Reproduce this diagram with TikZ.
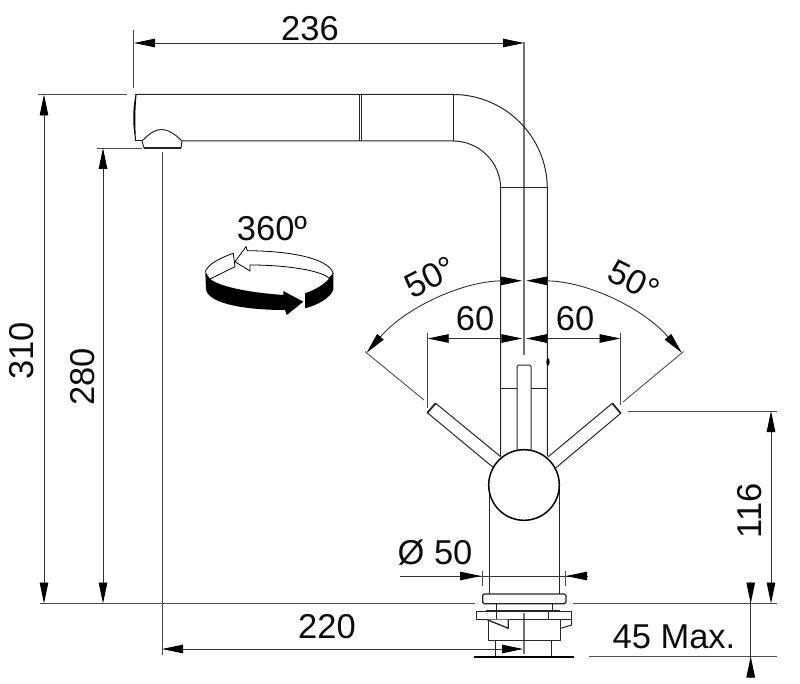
\documentclass[tikz,border=0pt]{standalone}
\usepackage{fontspec}
\setmainfont{Liberation Sans}
\usetikzlibrary{arrows.meta}
\tikzset{
  part/.style={draw=black!85,line width=1pt,line join=round},
  thick part/.style={draw=black!85,line width=1.8pt},
  dimline/.style={draw=black!80,line width=0.9pt},
  extline/.style={draw=black!70,line width=0.9pt},
  center line/.style={draw=black!55,line width=1.1pt},
  both/.style={dimline,{Triangle[length=21pt,width=8.5pt,black]}-{Triangle[length=21pt,width=8.5pt,black]}},
  tip end/.style={dimline,-{Triangle[length=21pt,width=8.5pt,black]}},
  label/.style={font=\fontsize{34.5}{40}\selectfont,inner sep=0pt,text=black!95},
}
\begin{document}
\begin{tikzpicture}[x=1pt,y=-1pt]
\useasboundingbox (0,0) rectangle (800,684);
% extension and centre lines
\draw[center line] (524,42) -- (524,355);
\draw[center line] (524,613) -- (524,654);
\draw[extline] (133,30) -- (133,88);
\draw[extline] (38,94.5) -- (127,94.5);
\draw[extline] (97,148) -- (142,148);
\draw[extline] (40,603.5) -- (475,603.5);
\draw[extline] (573,603.5) -- (777,603.5);
\draw[extline] (162,152) -- (162,655);
\draw[extline] (628,411) -- (777,411);
\draw[extline] (589,656.5) -- (777,656.5);
\draw[extline] (427.7,333) -- (427.7,408);
\draw[extline] (620.5,333) -- (620.5,405);
\draw[extline] (365,351.5) -- (424,400);
\draw[extline] (683.5,351.5) -- (623,402);
% spout
\draw[part] (135,94.5) -- (453,94.5) arc[start angle=-90,end angle=0,radius=94.3] -- (547.3,456);
\draw[part] (135,141) -- (142,141);
\draw[part] (182,141) -- (453,141) arc[start angle=-90,end angle=0,radius=47.7] -- (500.7,456);
\draw[part] (453,94.5) -- (453,141);
\draw[part] (500.7,188) -- (547.3,188);
\draw[thick part] (359.5,94.5) -- (359.5,141);
\draw[part] (361.5,94.5) -- (361.5,141);
\fill[black] (135.5,95) .. controls (132.5,110) and (132.5,125) .. (135.5,141) -- (136,141) .. controls (135,125) and (135,110) .. (136.5,95) -- cycle;
% outlet
\draw[part] (142,141) .. controls (150,133) and (155,129.5) .. (161.5,129.5) .. controls (168,129.5) and (175,134) .. (182,141) -- (181,148) -- (144,148) -- cycle;
\draw[thick part] (144,148) -- (181,148);
% body and handle
\draw[part,line width=1.4pt] (501,388.7) -- (517,388.7) (531,388.7) -- (547,388.7);
\draw[part,rounded corners=1.5pt] (517,450) -- (517,365) -- (531,365) -- (531,450);
\fill[black] (548,362) ellipse[x radius=1.6,y radius=3.8];
\draw[part] (489,485) -- (489,594);
\draw[part] (559,485) -- (559,594);
% levers
\draw[part] (492.7,467) -- (427.3,412.7) -- (435.7,403.3) -- (500.7,456.7);
\draw[thick part] (427.3,412.7) -- (435.7,403.3);
\draw[part] (556,467.7) -- (620.7,413.3) -- (612.3,403.3) -- (548.3,456.7);
\draw[thick part] (620.7,413.3) -- (612.3,403.3);
\node[circle,draw=black,fill=white,line width=1.5pt,minimum size=70.6pt,inner sep=0pt] (ball) at (524,485) {};
% base
\draw[part,line width=1.4pt,rounded corners=1.5pt] (482.7,594) rectangle (566,603.7);
\draw[part] (496,604) -- (496,611) (552.3,604) -- (552.3,611);
\draw[part] (476.7,611) rectangle (571.7,619.3);
\draw[part,line width=1.5pt] (486,610.5) -- (560,610.5);
\draw[part] (496,611) -- (496,619.3) (548,611) -- (548,619.3);
\draw[part] (571.7,619.3) -- (571.7,625) -- (560,628.5);
\draw[part] (560,619.3) -- (560,640) -- (488,640) -- (488,619.3);
\draw[part,line width=1.3pt,fill=white] (486.7,619.5) -- (508.3,628.3) -- (508.3,619.5);
\draw[part] (495.7,640) -- (495.7,656) (551.7,640) -- (551.7,656);
\draw[line width=2pt,black] (474,657) -- (574,657);
% dimensions
\draw[both] (134,43) -- (524,43);
\draw[both] (44,94.5) -- (44,603.5);
\draw[both] (103,148) -- (103,603.5);
\draw[both] (771,411) -- (771,603.5);
\draw[both] (427.7,338.5) -- (522.3,338.5);
\draw[both] (620.5,338.5) -- (526,338.5);
\draw[both] (162,649) -- (523,649);
\draw[dimline] (400,576) -- (587,576);
\draw[tip end] (440,576) -- (481,576);
\draw[tip end] (587,576) -- (566,576);
\draw[extline] (482.7,571) -- (482.7,586);
\draw[extline] (565.3,571) -- (565.3,586);
\draw[dimline] (750.7,590) -- (750.7,670);
\draw[tip end] (750.7,582) -- (750.7,603.5);
\draw[tip end] (750.7,678) -- (750.7,656.5);
\path[both] (366.7,352.7) arc[start angle=-139.2,end angle=-90.5,radius=207.8];
\path[both] (681.7,352.7) arc[start angle=-40.8,end angle=-89.5,radius=207.8];
% 360 symbol
\draw[black,line width=0.8pt,fill=white] (235,261.7) -- (246,246.7) -- (247.3,250.7) .. controls (290,251) and (328,258) .. (333.3,273.3) -- (329.3,278.3) .. controls (320,270) and (285,265) .. (250,265) -- (250,271) -- cycle;
\draw[black,line width=0.8pt] (210,279) -- (235,266.7) -- (233.3,253.3) .. controls (220,258) and (208,264) .. (205.3,271.7);
\fill[black] (205.3,271.7) -- (210,279) .. controls (222,288) and (255,293) .. (283.3,295) -- (283.3,291) -- (303.3,301.7) -- (286.7,315) -- (285,310) .. controls (250,310) and (210,305) .. (206,290) -- cycle;
\fill[black] (305,293.3) .. controls (315,290) and (325,284) .. (329.3,278.3) -- (333.3,273.3) -- (333.3,290) .. controls (330,298) and (318,305) .. (305,308.3) -- cycle;
% labels
\node[label] (d236) at (310,29) {236};
\node[label,rotate=90] (d310) at (22,351) {310};
\node[label,rotate=90] (d280) at (83,377) {280};
\node[label,rotate=90] (d116) at (750,511) {116};
\node[label] (d60l) at (475,319) {60};
\node[label] (d60r) at (575,319) {60};
\node[label] (d220) at (327,627) {220};
\node[label] (d45) at (674,637) {45 Max.};
\node[label] (dphi) at (435,553) {Ø 50};
\node[label] (rot) at (272,229) {360º};
\node[label,rotate=27] (a50l) at (430,277) {50°};
\node[label,rotate=-27] (a50r) at (634,281) {50°};
\end{tikzpicture}
\end{document}
